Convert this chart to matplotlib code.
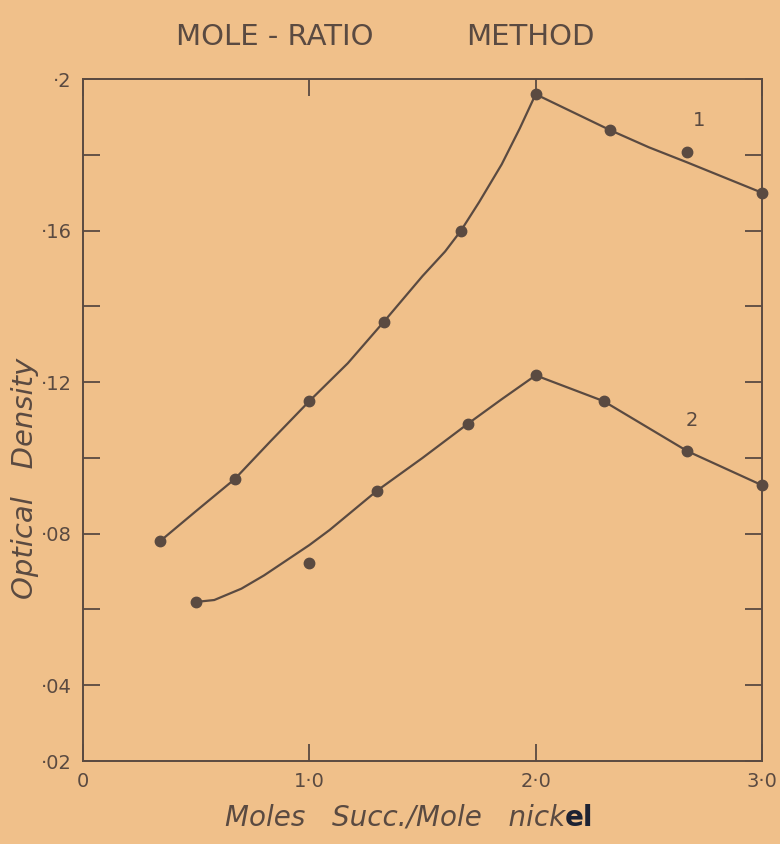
import matplotlib
matplotlib.use("Agg")
import matplotlib.pyplot as plt

# measured points, series 1 and 2
ratio_1 = [0.34, 0.67, 1.0, 1.33, 1.67, 2.0, 2.33, 2.67, 3.0]
od_1 = [0.078, 0.0944, 0.115, 0.136, 0.160, 0.196, 0.1865, 0.1807, 0.170]
ratio_2 = [0.5, 1.0, 1.3, 1.7, 2.0, 2.3, 2.67, 3.0]
od_2 = [0.062, 0.0724, 0.0914, 0.109, 0.1218, 0.115, 0.1018, 0.0928]

# hand-drawn curves
curve_1_x = [0.34, 0.5, 0.67, 0.83, 1.0, 1.17, 1.33, 1.5, 1.6, 1.67, 1.75, 1.85, 1.93, 2.0,
             2.33, 2.5, 2.67, 3.0]
curve_1_y = [0.078, 0.086, 0.0944, 0.1045, 0.115, 0.125, 0.136, 0.148, 0.1545, 0.160, 0.1675,
             0.1775, 0.187, 0.196, 0.1865, 0.182, 0.178, 0.170]
curve_2_x = [0.5, 0.58, 0.7, 0.8, 0.9, 1.0, 1.09, 1.3, 1.5, 1.7, 1.85, 2.0, 2.3, 2.67, 3.0]
curve_2_y = [0.062, 0.0625, 0.0655, 0.069, 0.073, 0.077, 0.081, 0.0914, 0.100, 0.109, 0.1155,
             0.1218, 0.115, 0.1018, 0.0928]

y_ticks = [0.02, 0.04, 0.06, 0.08, 0.10, 0.12, 0.14, 0.16, 0.18, 0.20]
y_tick_labels = ["·02", "·04", "", "·08", "", "·12", "", "·16", "", "·2"]
x_ticks = [0.0, 1.0, 2.0, 3.0]
x_tick_labels = ["0", "1·0", "2·0", "3·0"]

paper = "#f0c08a"
ink = "#5a4a41"

plt.rcParams["font.family"] = ["DejaVu Sans"]

fig = plt.figure(figsize=(7.8, 8.44), dpi=100, facecolor=paper)
ax = fig.add_axes([0.1064, 0.0983, 0.8705, 0.808], facecolor=paper)

ax.plot(curve_1_x, curve_1_y, color=ink, linewidth=1.6, solid_capstyle="round")
ax.plot(curve_2_x, curve_2_y, color=ink, linewidth=1.6, solid_capstyle="round")
ax.plot(ratio_1, od_1, "o", color=ink, markersize=7.5, clip_on=False)
ax.plot(ratio_2, od_2, "o", color=ink, markersize=7.5, clip_on=False)

ax.text(2.72, 0.189, "1", color=ink, fontsize=14, ha="center", va="center")
ax.text(2.69, 0.110, "2", color=ink, fontsize=14, ha="center", va="center")

ax.set_xlim(0, 3.0)
ax.set_ylim(0.02, 0.20)
ax.set_yticks(y_ticks)
ax.set_yticklabels(y_tick_labels)
ax.set_xticks(x_ticks)
ax.set_xticklabels(x_tick_labels)
ax.tick_params(axis="both", direction="in", length=12, width=1.3, color=ink,
               labelcolor=ink, labelsize=14, top=True, right=True)
ax.tick_params(axis="y", pad=8)
ax.tick_params(axis="x", pad=8)
for spine in ax.spines.values():
    spine.set_color(ink)
    spine.set_linewidth(1.4)

# title in two words, spaced as on the sheet
fig.text(275 / 780, 1 - 37 / 844, "MOLE - RATIO", color=ink, fontsize=21,
         ha="center", va="center")
fig.text(530 / 780, 1 - 37 / 844, "METHOD", color=ink, fontsize=21,
         ha="center", va="center")
fig.text(25 / 780, 1 - 478 / 844, "Optical   Density", color=ink, fontsize=21,
         style="italic", rotation=90, ha="center", va="center")
xl = fig.text(225 / 780, 1 - 832 / 844, "Moles   Succ./Mole   nick", color=ink,
              fontsize=20, style="italic", ha="left", va="bottom")
ax.annotate("el", xy=(1, 0), xycoords=xl, color="#1c2233", fontsize=20,
            fontweight="bold", ha="left", va="bottom")

fig.savefig("out.png", dpi=100, facecolor=paper)
